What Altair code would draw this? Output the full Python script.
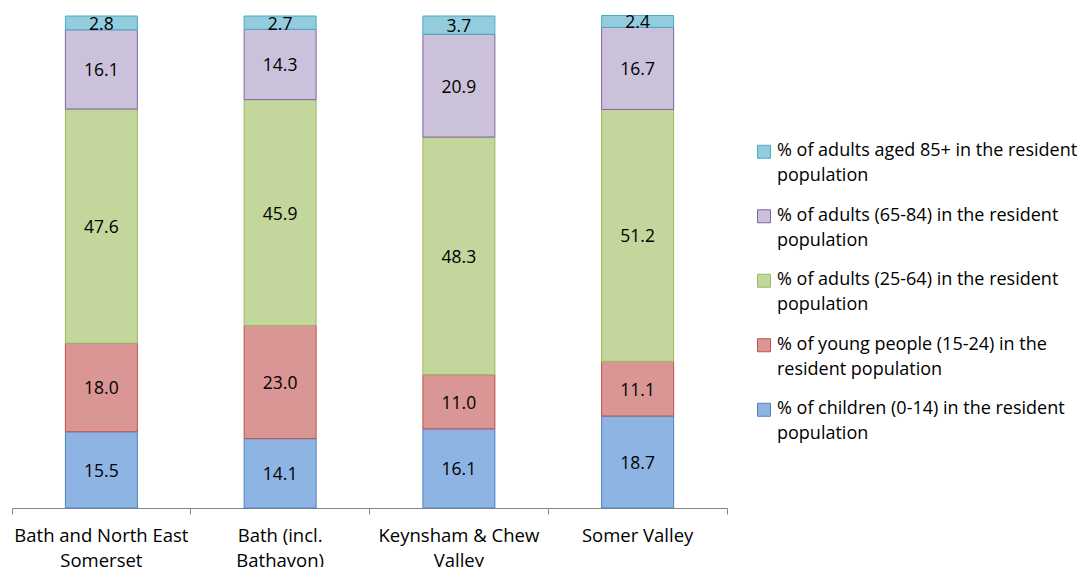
import altair as alt
import pandas as pd

categories = ["Bath and North East\nSomerset", "Bath (incl.\nBathavon)",
              "Keynsham & Chew\nValley", "Somer Valley"]
series = [
    "% of children (0-14) in the resident\npopulation",
    "% of young people (15-24) in the\nresident population",
    "% of adults (25-64) in the resident\npopulation",
    "% of adults (65-84) in the resident\npopulation",
    "% of adults aged 85+ in the resident\npopulation",
]
children = [15.5, 14.1, 16.1, 18.7]
young = [18.0, 23.0, 11.0, 11.1]
adults = [47.6, 45.9, 48.3, 51.2]
older = [16.1, 14.3, 20.9, 16.7]
oldest = [2.8, 2.7, 3.7, 2.4]

fills = ["#8EB4E3", "#D99694", "#C3D69B", "#CCC1DA", "#93CDDD"]
strokes = ["#4F81BD", "#C0504D", "#9BBB59", "#8064A2", "#4BACC6"]

rows = []
for si, (name, vals) in enumerate(zip(series, [children, young, adults, older, oldest])):
    for ci, c in enumerate(categories):
        rows.append({"cat": c, "series": name, "idx": si, "value": vals[ci],
                     "label": f"{vals[ci]:.1f}"})
df = pd.DataFrame(rows)

FONT = "Open Sans"
FS = 18.5
FS_LEG = 18
FS_NUM = 17.5
legend_order = series[::-1]

legend = alt.Legend(
    title=None, orient="none", legendX=743, legendY=117,
    labelExpr="split(datum.label, '\\n')", labelFont=FONT, labelFontSize=FS_LEG,
    labelColor="#000000", labelLimit=400, labelBaseline="top", labelOffset=4,
    symbolType="M-1,0.5L1,0.5L1,2.5L-1,2.5Z", symbolSize=169, symbolStrokeWidth=1,
    rowPadding=12.5,
)

x_enc = alt.X(
    "cat:N", sort=categories, title=None,
    scale=alt.Scale(paddingInner=0, paddingOuter=0),
    axis=alt.Axis(
        labelExpr="split(datum.label, '\\n')", labelAngle=0, bandPosition=1,
        tickExtra=True, labelOverlap=False, labelFont=FONT,
        labelFontSize=FS, labelColor="#000000", labelPadding=12, tickSize=6,
        domainColor="#868686", tickColor="#868686", labelLimit=400,
    ),
)

ysc = alt.Scale(domain=[0, 100], nice=False, zero=True)

bars = alt.Chart(df).mark_bar(width=72, strokeWidth=1).encode(
    x=x_enc,
    y=alt.Y("value:Q", stack="zero", scale=ysc, axis=None),
    color=alt.Color("series:N", scale=alt.Scale(domain=legend_order, range=fills[::-1]),
                    legend=legend),
    stroke=alt.Stroke("series:N", scale=alt.Scale(domain=legend_order, range=strokes[::-1]),
                      legend=legend),
    order=alt.Order("idx:Q", sort="ascending"),
)

texts = alt.Chart(df).transform_stack(
    stack="value", groupby=["cat"], as_=["y0", "y1"],
    sort=[alt.SortField("idx", order="ascending")],
).transform_calculate(
    mid="(datum.y0 + datum.y1) / 2"
).mark_text(font=FONT, fontSize=FS_NUM, color="#000000", baseline="middle", dy=2).encode(
    x=x_enc,
    y=alt.Y("mid:Q", scale=ysc, axis=None),
    text="label:N",
)

chart = alt.layer(bars, texts).properties(
    width=715, height=492,
    autosize=alt.AutoSizeParams(type="none"),
    padding={"left": 4, "top": 8, "right": 354, "bottom": 59},
).configure(
    view=alt.ViewConfig(strokeWidth=0),
    style={"guide-label": {"lineHeight": 25}},
)

chart.save("out.html", embed_options={"renderer": "svg", "actions": False})
